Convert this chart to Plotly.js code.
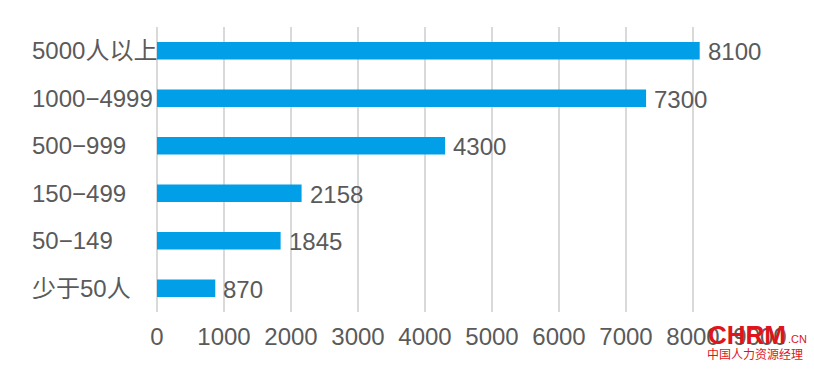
<!DOCTYPE html>
<html><head><meta charset="utf-8">
<script src="https://cdn.plot.ly/plotly-3.0.1.min.js"></script>
<style>html,body{margin:0;padding:0;background:#fff}#c{width:814px;height:372px}</style>
</head><body><div id="c"></div>
<script>
const categories = ["5000人以上", "1000−4999", "500−999", "150−499", "50−149", "少于50人"];
const values = [8100, 7300, 4300, 2158, 1845, 870];
const xTicks = [0, 1000, 2000, 3000, 4000, 5000, 6000, 7000, 8000, 9000];

const FONT = "Liberation Sans, Arial, Noto Sans CJK SC, sans-serif";
const GRAY = "#5a5a5a";
const RED = "#e0151b";

const trace = {
  type: "bar", orientation: "h",
  x: values, y: categories,
  marker: {color: "#009fe8"},
  width: 0.37,
  hoverinfo: "none"
};

const annotations = values.map((v, i) => ({
  x: v, y: categories[i], xref: "x", yref: "y",
  text: String(v), showarrow: false, xanchor: "left", xshift: 6, yshift: -1,
  font: {family: FONT, size: 24, color: GRAY}
}));
categories.forEach(c => annotations.push({
  x: -0.2106, y: c, xref: "paper", yref: "y",
  text: c, showarrow: false, xanchor: "left",
  font: {family: FONT, size: 24, color: GRAY}
}));
annotations.push(
  {xref: "paper", yref: "paper", x: 0.910, y: -0.081, xanchor: "left", yanchor: "middle",
   text: "<b>CHRM</b>", showarrow: false,
   font: {family: "Liberation Sans, Arial", size: 26, color: RED}},
  {xref: "paper", yref: "paper", x: 1.043, y: -0.095, xanchor: "left", yanchor: "middle",
   text: ".CN", showarrow: false,
   font: {family: "Liberation Sans, Arial", size: 11, color: RED}},
  {xref: "paper", yref: "paper", x: 0.908, y: -0.144, xanchor: "left", yanchor: "middle",
   text: "中国人力资源经理", showarrow: false,
   font: {family: "Noto Sans CJK SC", size: 12, color: RED}}
);

const layout = {
  width: 814, height: 372,
  margin: {l: 157, r: 54, t: 27, b: 60},
  paper_bgcolor: "#fff", plot_bgcolor: "#fff",
  showlegend: false,
  xaxis: {
    range: [0, 9000], tickvals: xTicks, ticktext: xTicks.map(String),
    showgrid: true, gridcolor: "#d9d9d9", gridwidth: 2,
    zeroline: true, zerolinecolor: "#d9d9d9", zerolinewidth: 2,
    showline: false, ticks: "", fixedrange: true,
    tickfont: {family: FONT, size: 24, color: GRAY},
    ticklabelstandoff: 8
  },
  yaxis: {
    autorange: "reversed", type: "category",
    showgrid: false, zeroline: false, showline: false, ticks: "",
    showticklabels: false
  },
  annotations: annotations
};

Plotly.newPlot("c", [trace], layout, {displayModeBar: false, staticPlot: true});
</script>
</body></html>
